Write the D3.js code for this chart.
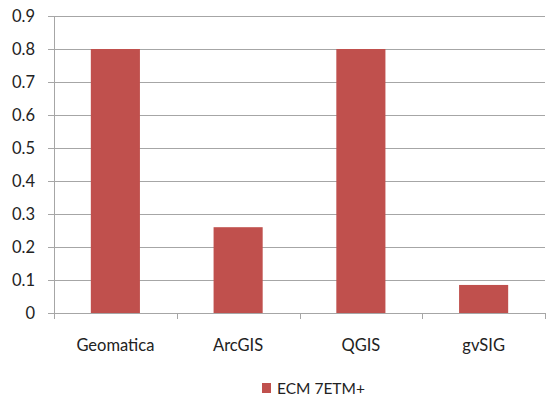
<!DOCTYPE html>
<html>
<head>
<meta charset="utf-8">
<script src="https://cdn.jsdelivr.net/npm/d3@7"></script>
<style>
  body { margin: 0; background: #fff; }
  text { font-family: Lato, "Open Sans", sans-serif; fill: #222; }
</style>
</head>
<body>
<script>
// DATA
var categories = ["Geomatica", "ArcGIS", "QGIS", "gvSIG"];
var values = [0.8, 0.26, 0.8, 0.085];
var seriesName = "ECM 7ETM+";
var yTicks = [0, 0.1, 0.2, 0.3, 0.4, 0.5, 0.6, 0.7, 0.8, 0.9];

var svg = d3.select("body").append("svg")
    .attr("width", 546)
    .attr("height", 398);

const margin = {top: 16, right: 1, bottom: 85, left: 54};
const width = 546 - margin.left - margin.right;
const height = 398 - margin.top - margin.bottom;

const x = d3.scaleBand()
    .domain(categories)
    .range([0, width])
    .paddingInner(0.6)
    .paddingOuter(0.3);

// category boundaries for the tick marks
const xOuter = d3.scaleLinear().domain([0, categories.length]).range([0, width]);

const y = d3.scaleLinear()
    .domain([0, 0.9])
    .range([height, 0]);

const g = svg.append("g")
    .attr("transform", "translate(" + margin.left + "," + margin.top + ")");

// gridlines
g.append("g")
    .selectAll("line")
    .data(yTicks)
    .enter()
    .append("line")
    .attr("x1", -6)
    .attr("x2", width)
    .attr("y1", d => Math.round(y(d)) + 0.5)
    .attr("y2", d => Math.round(y(d)) + 0.5)
    .attr("stroke", "#a6a6a6")
    .attr("stroke-width", 1);

// y axis labels
g.append("g")
    .selectAll("text")
    .data(yTicks)
    .enter()
    .append("text")
    .attr("x", -19)
    .attr("y", d => y(d))
    .attr("dy", "0.36em")
    .attr("text-anchor", "end")
    .style("font-size", "16.5px")
    .text(d => d === 0 ? "0" : d3.format(".1f")(d));

// bars
g.selectAll("rect.bar")
    .data(values)
    .enter()
    .append("rect")
    .attr("class", "bar")
    .attr("x", (d, i) => x(categories[i]))
    .attr("y", d => y(d))
    .attr("width", x.bandwidth())
    .attr("height", d => height - y(d))
    .attr("fill", "#c0504d");

// y axis line
g.append("line")
    .attr("x1", 0.5).attr("x2", 0.5)
    .attr("y1", 0).attr("y2", height)
    .attr("stroke", "#a6a6a6");

// x axis line
g.append("line")
    .attr("x1", 0).attr("x2", width)
    .attr("y1", height + 0.5).attr("y2", height + 0.5)
    .attr("stroke", "#a6a6a6");

// x tick marks at category boundaries
g.append("g")
    .selectAll("line")
    .data(d3.range(categories.length + 1))
    .enter()
    .append("line")
    .attr("x1", d => Math.round(xOuter(d)) + 0.5)
    .attr("x2", d => Math.round(xOuter(d)) + 0.5)
    .attr("y1", height)
    .attr("y2", height + 6)
    .attr("stroke", "#a6a6a6");

// category labels
g.append("g")
    .selectAll("text")
    .data(categories)
    .enter()
    .append("text")
    .attr("x", d => x(d) + x.bandwidth() / 2)
    .attr("y", height + 32)
    .attr("dy", "0.36em")
    .attr("text-anchor", "middle")
    .style("font-size", "16.5px")
    .text(d => d);

// legend
const leg = svg.append("g").attr("transform", "translate(262,383)");
leg.append("rect")
    .attr("width", 9).attr("height", 10)
    .attr("fill", "#c0504d");
leg.append("text")
    .attr("x", 15)
    .attr("y", 5)
    .attr("dy", "0.36em")
    .style("font-size", "15.5px")
    .text(seriesName);
</script>
</body>
</html>
